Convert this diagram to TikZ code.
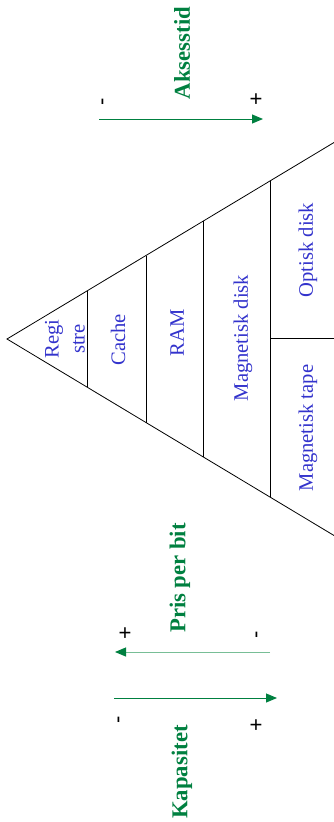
\documentclass[tikz,border=0pt]{standalone}
\usepackage{fontspec}
\setmainfont{Liberation Serif}
\newfontfamily\plusfont{Liberation Sans}
\usetikzlibrary{arrows.meta}
\definecolor{lblue}{RGB}{51,51,204}
\definecolor{lgreen}{RGB}{0,128,64}
\definecolor{pgreen}{RGB}{120,190,150}
\tikzset{
  lvl/.style={rotate=90,inner sep=0pt,text=lblue,font=\fontsize{20.6}{26}\selectfont,align=center},
  axis/.style={rotate=90,inner sep=0pt,text=lgreen,font=\fontsize{22.7}{27}\selectfont\bfseries},
  sign/.style={rotate=90,inner sep=0pt,font=\plusfont\fontsize{22}{24}\selectfont},
  edge/.style={line width=0.8pt,black},
  garrow/.style={line width=1pt,lgreen,-{Triangle[length=11pt,width=9pt]}},
}
\begin{document}
\begin{tikzpicture}[x=1pt,y=-1pt]
\useasboundingbox (0,0) rectangle (334,822);
% triangle
\coordinate (apex) at (7,339);
\coordinate (tr) at (334,142.5);
\coordinate (br) at (334,535.5);
\draw[edge] (tr) -- (apex) -- (br);
% separators
\coordinate (s1t) at (87,291); \coordinate (s1b) at (87,387);
\coordinate (s2t) at (146,255.5); \coordinate (s2b) at (146,422.5);
\coordinate (s3t) at (203,221.2); \coordinate (s3b) at (203,456.8);
\coordinate (s4t) at (270,181); \coordinate (s4b) at (270,497);
\coordinate (hl) at (270,338); \coordinate (hr) at (334,338);
\draw[edge] (s1t) -- (s1b);
\draw[edge] (s2t) -- (s2b);
\draw[edge] (s3t) -- (s3b);
\draw[edge] (s4t) -- (s4b);
\draw[edge] (hl) -- (hr);
% level labels
\node[lvl] (reg) at (65,339) {Regi\\stre};
\node[lvl] (cache) at (118,340) {Cache};
\node[lvl] (ram) at (177,333) {RAM};
\node[lvl] (mdisk) at (243,338) {Magnetisk disk};
\node[lvl] (odisk) at (308,250) {Optisk disk};
\node[lvl] (mtape) at (308,428) {Magnetisk tape};
% axis labels
\node[axis] (aks) at (182,53) {Aksesstid};
\node[axis] (pris) at (180,578) {Pris per bit};
\node[axis] (kap) at (182,772) {Kapasitet};
% arrows
\coordinate (a1) at (99,119); \coordinate (a2) at (263,119);
\draw[garrow] (a1) -- (a2);
\coordinate (p1) at (270,652); \coordinate (pm0) at (125,652); \coordinate (p2) at (115,652);
\draw[line width=1pt,pgreen] (p1) -- (pm0);
\draw[garrow] (pm0) -- (p2);
\coordinate (k1) at (114,698); \coordinate (k2) at (277,698);
\draw[garrow] (k1) -- (k2);
% signs
\node[sign] (am) at (105,102) {-};
\node[sign] (ap) at (257,99) {+};
\node[sign] (pp) at (126,633) {+};
\node[sign] (pm) at (259,635) {-};
\node[sign] (km) at (121,720) {-};
\node[sign] (kp) at (257,725) {+};
\end{tikzpicture}
\end{document}
